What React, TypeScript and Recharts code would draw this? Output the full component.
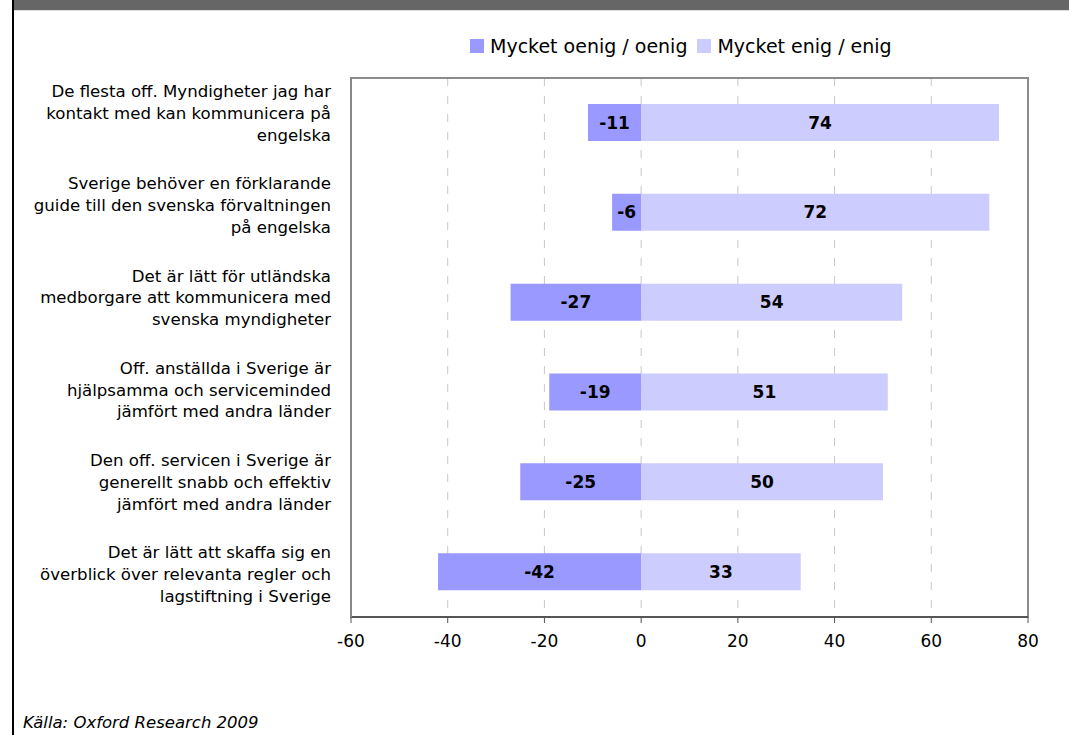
import React from "react";
import {
  Bar,
  BarChart,
  CartesianGrid,
  LabelList,
  ReferenceArea,
  XAxis,
  YAxis,
} from "recharts";

const categories = [
  "De flesta off. Myndigheter jag har\nkontakt med kan kommunicera på\nengelska",
  "Sverige behöver en förklarande\nguide till den svenska förvaltningen\npå engelska",
  "Det är lätt för utländska\nmedborgare att kommunicera med\nsvenska myndigheter",
  "Off. anställda i Sverige är\nhjälpsamma och serviceminded\njämfört med andra länder",
  "Den off. servicen i Sverige är\ngenerellt snabb och effektiv\njämfört med andra länder",
  "Det är lätt att skaffa sig en\növerblick över relevanta regler och\nlagstiftning i Sverige",
];
const disagree = [-11, -6, -27, -19, -25, -42];
const agree = [74, 72, 54, 51, 50, 33];
const xTicks = [-60, -40, -20, 0, 20, 40, 60, 80];
const seriesNames = ["Mycket oenig / oenig", "Mycket enig / enig"];
const seriesColors = ["#9999ff", "#ccccff"];
const source = "Källa: Oxford Research 2009";

const data = categories.map((label, i) => ({
  label,
  disagree: disagree[i],
  agree: agree[i],
}));

const font = "'DejaVu Sans', Verdana, sans-serif";

// excel spreads the wrapped labels a little wider than the bars
function CategoryTick(props: any) {
  const { x, y, payload, index } = props;
  const lines = String(payload.value).split("\n");
  const lh = 21.8;
  const cy = y + 2.4 * index - 10;
  return (
    <text x={x - 12} y={cy} textAnchor="end" fontSize={16.6} fontFamily={font} fill="#000">
      {lines.map((ln, i) => (
        <tspan key={i} x={x - 12} y={cy + (i - (lines.length - 1) / 2) * lh + 6}>
          {ln}
        </tspan>
      ))}
    </text>
  );
}

export default function App() {
  return (
    <div
      style={{
        position: "absolute",
        left: 0,
        top: 0,
        width: 1069,
        height: 735,
        overflow: "hidden",
        background: "#fff",
        fontFamily: font,
      }}
    >
      {/* header band + frame */}
      <div style={{ position: "absolute", left: 14, top: 0, width: 1055, height: 10, background: "#666" }} />
      <div style={{ position: "absolute", left: 14, top: 10, width: 1055, height: 1, background: "#ddd" }} />
      <div style={{ position: "absolute", left: 12, top: 0, width: 2, height: 735, background: "#000" }} />

      {/* legend */}
      <div style={{ position: "absolute", left: 470, top: 35, display: "flex", alignItems: "center", fontSize: 19, color: "#000" }}>
        {seriesNames.map((n, i) => (
          <div key={n} style={{ display: "flex", alignItems: "center", marginRight: i === 0 ? 10 : 0 }}>
            <span style={{ display: "inline-block", width: 14, height: 14, background: seriesColors[i], marginRight: 6 }} />
            <span>{n}</span>
          </div>
        ))}
      </div>

      <div style={{ position: "absolute", left: 0, top: 0 }}>
        <BarChart
          width={1069}
          height={735}
          data={data}
          layout="vertical"
          stackOffset="sign"
          margin={{ top: 78, right: 41, bottom: 78, left: 0 }}
        >
          <CartesianGrid horizontal={false} stroke="#c8c8c8" strokeDasharray="8 10" />
          <XAxis
            type="number"
            domain={[-60, 80]}
            ticks={xTicks}
            interval={0}
            height={40}
            axisLine={{ stroke: "#555", strokeWidth: 2 }}
            tickLine={{ stroke: "#555" }}
            tickSize={6}
            tickMargin={12}
            tick={{ fontSize: 17, fill: "#000", fontFamily: font }}
          />
          <YAxis
            type="category"
            dataKey="label"
            width={351}
            interval={0}
            axisLine={{ stroke: "#888", strokeWidth: 2 }}
            tickLine={false}
            tick={<CategoryTick />}
          />
          <Bar dataKey="disagree" name={seriesNames[0]} stackId="s" fill={seriesColors[0]} barSize={37} isAnimationActive={false}>
            <LabelList dataKey="disagree" position="center" fill="#000" fontSize={17} fontWeight="bold" fontFamily={font} />
          </Bar>
          <Bar dataKey="agree" name={seriesNames[1]} stackId="s" fill={seriesColors[1]} barSize={37} isAnimationActive={false}>
            <LabelList dataKey="agree" position="center" fill="#000" fontSize={17} fontWeight="bold" fontFamily={font} />
          </Bar>
          <ReferenceArea x1={-60} x2={80} fill="none" fillOpacity={0} stroke="#8c8c8c" strokeWidth={2} ifOverflow="visible" />
        </BarChart>
      </div>

      <div
        style={{
          position: "absolute",
          left: 23,
          top: 713,
          fontSize: 16.5,
          lineHeight: "20px",
          fontStyle: "italic",
          color: "#000",
          whiteSpace: "nowrap",
        }}
      >
        {source}
      </div>
    </div>
  );
}
